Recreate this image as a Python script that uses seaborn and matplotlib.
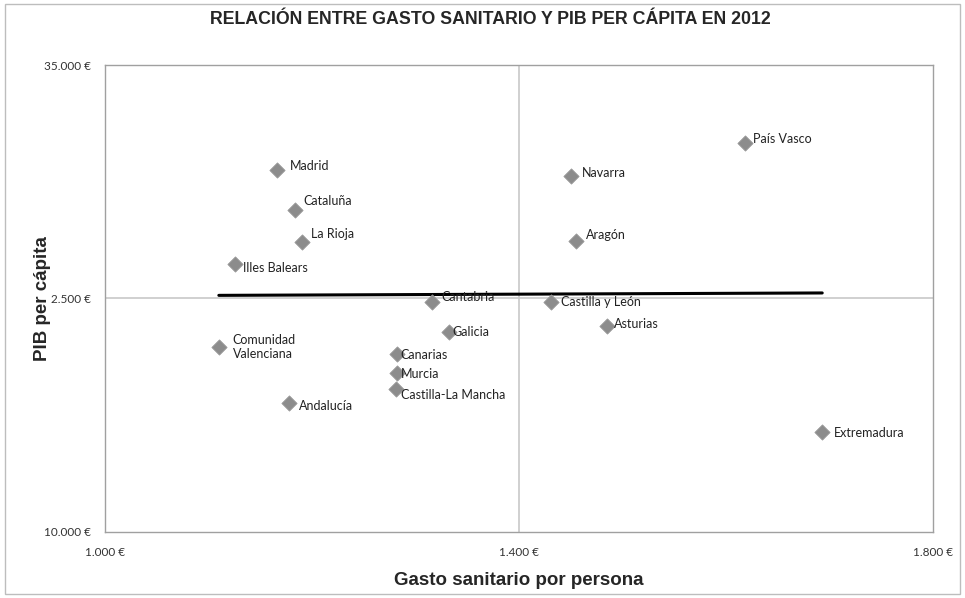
import numpy as np
import pandas as pd
import seaborn as sns
import matplotlib.pyplot as plt
from matplotlib.patches import Rectangle

# Datos por comunidad autónoma
comunidades = ['Madrid', 'Cataluña', 'La Rioja', 'Illes Balears', 'Comunidad\nValenciana',
               'Andalucía', 'Cantabria', 'Galicia', 'Canarias', 'Murcia',
               'Castilla-La Mancha', 'Castilla y León', 'Asturias', 'Navarra', 'Aragón',
               'País Vasco', 'Extremadura']
gasto = [1166, 1184, 1190, 1126, 1110,
         1178, 1316, 1332, 1282, 1282,
         1281, 1431, 1485, 1450, 1455,
         1618, 1693]
pib = [29380, 27240, 25530, 24350, 19900,
       16910, 22310, 20710, 19530, 18510,
       17650, 22310, 21030, 29060, 25580,
       30820, 15350]

x_ticks = [1000, 1400, 1800]
x_tick_labels = ['1.000 €', '1.400 €', '1.800 €']
y_ticks = [10000, 22500, 35000]
y_tick_labels = ['10.000 €', '2.500 €', '35.000 €']

df = pd.DataFrame({'comunidad': comunidades, 'gasto': gasto, 'pib': pib})

# desplazamiento de las etiquetas (pixeles)
offsets = {
    'Madrid': (13, 4), 'Cataluña': (8, 9), 'La Rioja': (9, 8), 'Illes Balears': (8, -4),
    'Comunidad\nValenciana': (14, 0), 'Andalucía': (10, -3), 'Cantabria': (9, 5),
    'Galicia': (4, 0), 'Canarias': (4, -1), 'Murcia': (4, -1), 'Castilla-La Mancha': (5, -6),
    'Castilla y León': (10, 0), 'Asturias': (7, 2), 'Navarra': (11, 3), 'Aragón': (10, 6),
    'País Vasco': (8, 4), 'Extremadura': (12, -1),
}

sns.set_style('white')
plt.rcParams['font.family'] = ['Liberation Sans', 'DejaVu Sans']

fig = plt.figure(figsize=(9.65, 5.98), dpi=100)
ax = fig.add_axes([0.1088, 0.1104, 0.858, 0.7809])

# líneas de referencia
ax.axvline(1400, color='#c8c8c8', lw=1.2, zorder=0)
ax.axhline(22500, color='#c8c8c8', lw=1.2, zorder=0)

# línea de tendencia lineal
coef = np.polyfit(df['gasto'], df['pib'], 1)
tx = np.array([df['gasto'].min(), df['gasto'].max()])
sns.lineplot(x=tx, y=np.polyval(coef, tx), color='black', linewidth=2.2, ax=ax, zorder=2)

sns.scatterplot(data=df, x='gasto', y='pib', marker='D', s=60, color='#8c8c8c',
                edgecolor='#9a9a9a', linewidth=0.6, ax=ax, zorder=3)

for _, r in df.iterrows():
    dx, dy = offsets[r['comunidad']]
    ax.annotate(r['comunidad'], (r['gasto'], r['pib']), xytext=(dx, dy),
                textcoords='offset pixels', ha='left', va='center',
                fontsize=9, family=['Lato', 'DejaVu Sans'], color='#222222',
                linespacing=1.25, zorder=4)

ax.set_xlim(1000, 1800)
ax.set_ylim(10000, 35000)
ax.set_xticks(x_ticks)
ax.set_xticklabels(x_tick_labels)
ax.set_yticks(y_ticks)
ax.set_yticklabels(y_tick_labels)
for lab in ax.get_xticklabels() + ax.get_yticklabels():
    lab.set_family(['Lato', 'DejaVu Sans'])
    lab.set_fontsize(8.5)
    lab.set_color('#333333')
ax.tick_params(axis='x', length=0, pad=11)
ax.tick_params(axis='y', length=0, pad=10)

for s in ax.spines.values():
    s.set_color('#a0a0a0')
    s.set_linewidth(1.0)

ax.set_xlabel('Gasto sanitario por persona', fontsize=13.5, fontweight='bold', labelpad=10)
ax.set_ylabel('PIB per cápita', fontsize=13.5, fontweight='bold', labelpad=-5)
fig.suptitle('RELACIÓN ENTRE GASTO SANITARIO Y PIB PER CÁPITA EN 2012',
             x=0.508, y=0.982, fontsize=12.8, fontweight='bold')

# marco exterior
fig.patches.append(Rectangle((0.005, 0.006), 0.99, 0.988, transform=fig.transFigure,
                             fill=False, edgecolor='#bdbdbd', linewidth=1.0))

fig.savefig('out.png', dpi=100)
